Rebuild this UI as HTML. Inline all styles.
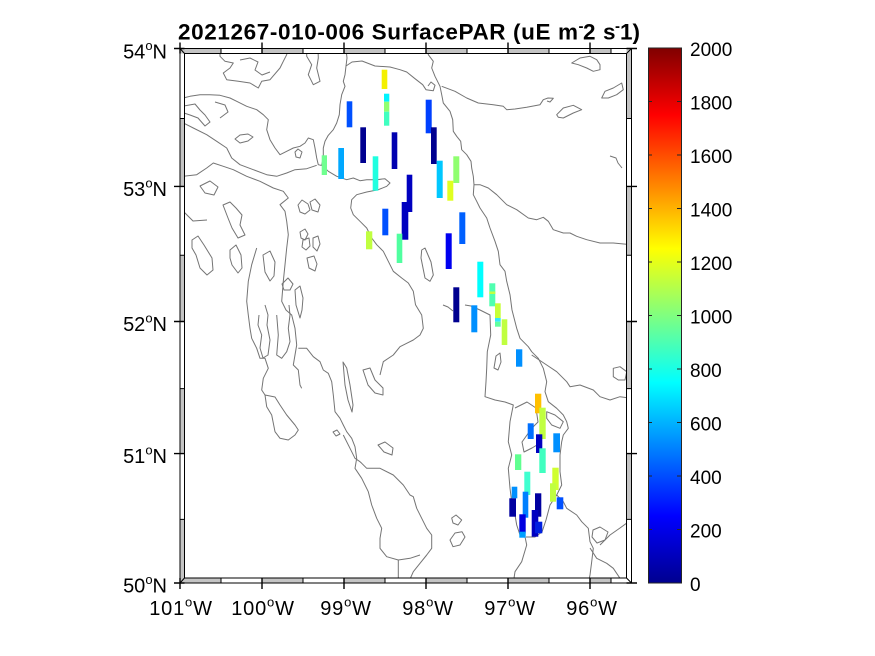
<!DOCTYPE html>
<html><head><meta charset="utf-8"><style>
html,body{margin:0;padding:0;background:#fff;}
svg{display:block;}
text{font-family:"Liberation Sans",Arial,sans-serif;fill:#000;}
</style></head><body>
<svg width="875" height="656" viewBox="0 0 875 656" xmlns="http://www.w3.org/2000/svg">
<defs>
<linearGradient id="jet" x1="0" y1="1" x2="0" y2="0">
<stop offset="0" stop-color="#00008f"/>
<stop offset="0.125" stop-color="#0000ff"/>
<stop offset="0.375" stop-color="#00ffff"/>
<stop offset="0.625" stop-color="#ffff00"/>
<stop offset="0.875" stop-color="#ff0000"/>
<stop offset="1" stop-color="#800000"/>
</linearGradient>
<clipPath id="mc"><rect x="184.5" y="53.5" width="442" height="524.5"/></clipPath>
</defs>
<rect width="875" height="656" fill="#fff"/>

<!-- coastlines -->
<g clip-path="url(#mc)" fill="none" stroke="#747474" stroke-width="1" stroke-linejoin="round">
<path d="M346,49 L347,58 L346,66 L345,74.7 L343.3,81.3 L345,86.3 L341.7,94.7 L340,104.7 L339.3,114.7 L336.7,123 L333.3,129.7 L328.3,135.3 L325,141.3 L323.3,148 L323.3,158 L321.7,164.7 L328.3,171.3 L336.7,176.3 L346.7,179.7 L353.3,178 L360,180.7 L366.7,179.7 L376.7,179.7 L385,178.7 L390,183 L386.7,186.3 L378.3,189.7 L366.7,192 L356.7,194.7 L351.7,199.7 L350.7,208 L353.3,214.7 L360,221.3 L366.7,228 L371.7,238 L376.7,244.7 L383.3,251.3 L388.3,261.3 L393.3,271.3 L401.7,278 L408.3,283 L413.3,291.3 L415.5,304.7 L421.7,315 L423.3,328.3 L420,335 L413.3,340 L406.7,343.3 L400,346.7 L393.3,355 L383.3,361.7 L380,375"/>
<path d="M346,66 L352,62 L362,61 L375,66 L390,67 L400,69.7 L406.7,72 L415,78.7 L422.7,84.7 L426,89.7 L433.3,90.7 L435,85.3 L431,82 L428,86"/>
<path d="M428,49 L428.3,54.7 L433.3,61.3 L431.7,68 L435,76.3 L440,86.3 L441.7,94.7 L443.3,103 L450,111.3 L452.7,119.7 L453.3,131.3 L456.7,136.3 L460.7,141.3 L461.7,149.7 L466.7,154.7 L471,161.3 L471.7,168 L473.3,176.3 L474,184.7 L473.3,194.7 L476.7,201.3 L480,208 L486.7,218 L490,228 L495,241.3 L498.3,251.3 L500,264.7 L505,271.3 L506.7,281.3 L510,294.7 L512,310 L516.7,328.3 L520,338.3 L528.3,346.7 L531.7,351.7 L538.3,358.3 L543.3,368.3 L546.7,381.7 L545,391.7 L548.3,401.7 L556.7,408.3 L563.3,415 L566.7,421.7 L568.3,428.3 L563.3,435 L561.7,441.7 L560,455 L560,471.7 L561.7,485 L556.7,495 L563.3,501.7 L566.7,508.3 L576.7,515 L581.7,521.7 L588.3,528.3 L590,541.7 L593.3,548.3 L591.7,561.7 L590,575 L588.3,583"/>
<path d="M474,184.7 L480,184.7 L488.3,188 L496.7,194.7 L506.7,204.7 L516.7,209.7 L528.3,218 L536.7,219.7 L543.3,217.3 L548.3,221.3 L553.3,229.7 L563.3,233 L570,233 L576.7,236.3 L586.7,239.7 L600,243 L613.3,243 L631,244.7"/>
<path d="M441.7,86.3 L455,91.3 L466.7,98 L478.3,103 L493.3,104.7 L503.3,106.3 L506.7,109.7 L515,109 L526.7,107.3 L540,104.7 L543.3,99.7 L548,98 L553.3,98.3 L550,102 L547,101"/>
<path d="M571.7,63 L580,58 L590,56.3 L596.7,59.7 L600,64.7 L600,69.7 L593.3,71.3 L586.7,68 L578.3,64.7 Z"/>
<path d="M601.7,98 L605,91.3 L613.3,88 L621.7,83 L623.3,89.7 L616.7,94.7 L608.3,98 Z"/>
<path d="M556.7,114.7 L563.3,108 L573.3,105.3 L581.7,109.7 L573.3,113 L563.3,118 L558.3,117.3 Z"/>
<path d="M610,156 L616,158 L618,163 L622,168"/>
<path d="M613.3,368.3 L620,366.7 L626.7,371.7 L625,380 L618.3,380 L613.3,376.7 Z"/>
<path d="M531.7,355 L546.7,365 L556.7,371.7 L566.7,381.7 L570,386.7 L580,385 L593.3,390 L600,396.7 L610,400 L620,396.7 L631,398.3"/>
<path d="M465,305 L471,306 L480,310 L490,315 L490.7,335 L487.3,351.7 L486.7,368.3 L486,381.7 L485,396.7 L495,400 L505,402 L513.3,405 L510,421.7 L508.3,441.7 L511.7,455 L508.3,468.3 L510,488.3 L511.7,501.7 L515,515 L516.7,525 L520,535 L525,536.7 L526.7,545 L521.7,561.7 L515,571.7 L513.3,583"/>
<path d="M443,305 L448,307 L453,311"/>
<path d="M526,537 L535,537 L542,532 L546,520 L550,505 L556.7,495"/>
<path d="M515,408 L527,402 L536,408 L538,422 L532,428 L527,435 L522,442 L524,452 L532,448 L537,445"/>
<path d="M546.7,411.7 L555,415 L563.3,421.7 L560,428.3 L551.7,425 L546.7,418.3 Z"/>
<path d="M494,368 L496,356 L500,353 L501,362 L498,370 Z"/>
<path d="M421.7,250 L425,248 L428,255 L431,262 L433.3,275 L430,281.3 L425,278 L423,268 L421,258 Z"/>
<path d="M451.7,518 L456,515 L461.7,520 L458,525 L453,523 Z"/>
<path d="M450,540 L455,533 L462,531.7 L465,537 L460,545 L453,546.7 Z"/>
<path d="M593,530 L600,527 L608,532 L605,540 L597,543 L592,537 Z"/>
<path d="M590,548 L596.7,558.3 L606.7,563.3 L613.3,568.3 L620,578.3 L631,581.7"/>
<path d="M600,545 L610,535 L620,528 L631,520"/>
<path d="M183.3,98 L190,96.3 L200,94.7 L210,94.7 L220,95.3 L230,98 L236.7,101.3 L246.7,106.3 L256.7,109.7 L263.3,114.7 L268.3,119.7 L266.7,129.7 L270,139.7 L275,148 L280,154.7 L286.7,151.3 L293.3,148 L300,146.3 L305,143 L308.3,138 L313.3,139.7 L315,148 L316.7,158 L318.3,164.7 L321.7,165.5"/>
<path d="M183.3,123 L193.3,128 L206.7,134.7 L216.7,141.3 L226.7,148 L231.7,158 L240,164.7 L253.3,169.7 L266.7,174.7 L276.7,176.3 L286.7,173 L295,169.7 L306.7,168.7 L316.7,165.3"/>
<path d="M183.3,176.3 L196.7,174.7 L206.7,168 L213.3,163 L223.3,166.3 L233.3,169.7 L246.7,176.3 L260,181.3 L273.3,188 L283.3,191.3 L288.3,198 L280,204.7 L285,211.3 L286.7,221.3 L288.3,234.7 L286.7,248 L285,264.7 L283.3,281.3 L281.7,301.3 L286,310 L291.7,315 L295,328.3 L296.7,345 L293.3,365 L298.3,370 L300,385 L301.7,388.3"/>
<path d="M276.7,315 L278.3,335 L276.7,355 L281.7,358.3 L286.7,351.7 L290,341.7 L288.3,328.3 L290,315 L289,305"/>
<path d="M256.7,248 L251.7,264.7 L248.3,281.3 L246.7,301.3 L248.3,315 L250,328.3 L251.7,338.3 L256.7,348.3 L260,358.3 L265,358.3 L268.3,368.3 L263.3,378.3 L261.7,390 L265,395"/>
<path d="M265,395 L266.7,406.7 L271.7,415 L275,431.7 L280,438.3 L288.3,440 L295,435 L298.3,430 L295,425 L286.7,415 L280,405 L275,397 Z"/>
<path d="M259,315 L258,325 L261.7,335 L260,348 L263,358 L268,355 L270,340 L267,325 L268,315 L265,305"/>
<path d="M298.3,348.3 L306.7,348.3 L313.3,356.7 L320,361.7 L323.3,370 L328.3,373.3 L331.7,381.7 L333.3,395 L335,411.7 L340,418.3 L343.3,425 L346.7,431.7 L351.7,438.3 L355,446.7 L356.7,458.3 L355,468.3 L361.7,478.3 L368.3,491.7 L371.7,505 L376.7,518.3 L381.7,528.3 L380,538.3 L380,548.3 L386.7,556.7 L398.3,560 L410,558.3 L420,555"/>
<path d="M398.3,560 L398.3,583"/>
<path d="M343,362 L346.7,368 L350,385 L353,405 L352,412 L348,400 L345,385 Z"/>
<path d="M363,370 L370,368 L375,380 L383,388 L383,395 L375,393 L368,385 Z"/>
<path d="M343.3,435 L350,448.3 L355,458.3 L360,461.7 L361.7,463.3 L366.7,468.3 L380,468.3 L393.3,475 L403.3,485 L410,495 L413.3,496.7 L416.7,508.3 L421.7,518.3 L426.7,528.3 L431.7,535 L431.7,548.3 L426.7,555 L420,563.3 L413.3,571.7 L408.3,583"/>
<path d="M378,445 L385,442 L393,448 L392,455 L384,452 Z"/>
<path d="M333,432 L337,430 L340,434 L336,436 Z"/>
<path d="M220,49 L220,56.3 L225,61.3 L233.3,63 L230,68 L223.3,73 L226.7,79.7 L238.3,81.3 L250,83 L258.3,88 L261.7,81.3 L270,79.7 L280,68 L283.3,61.3 L286.7,54.7 L287,49"/>
<path d="M306.7,49 L306.7,56.3 L311.7,64.7 L308.3,74.7 L313.3,84.7 L320,81.3 L316.7,68 L318.3,58 L318,49"/>
<path d="M240,60 L250,58 L258,62 L255,70 L262,75 L270,72"/>
<path d="M184,106 L195,104 L200,110 L205,115 L210,122 L205,126 L198,118 L190,115 L184,113"/>
<path d="M215,102 L225,105 L228,112 L220,118"/>
<path d="M235,139 L240,135 L248,134 L253,137 L248,141 L240,143 Z"/>
<path d="M295,152 L298,149 L302,152 L300,158 L296,157 Z"/>
<path d="M298,205 L302,200 L308,204 L310,210 L305,214 L300,212 Z"/>
<path d="M310,202 L315,199 L320,205 L318,212 L312,210 Z"/>
<path d="M183,211 L193,221 L207,220"/>
<path d="M200,186 L210,181 L218,187 L214,195 L205,193 Z"/>
<path d="M223,205 L230,202 L236,208 L242,215 L240,225 L245,235 L238,238 L232,228 L228,218 Z"/>
<path d="M192,240 L198,236 L204,245 L212,258 L213,270 L207,275 L200,268 L196,255 L192,248 Z"/>
<path d="M230,250 L236,245 L241,255 L242,268 L238,273 L232,265 L230,258 Z"/>
<path d="M263,255 L270,251 L275,262 L274,276 L270,281 L265,272 Z"/>
<path d="M300,232 L305,229 L308,234 L305,240 L301,238 Z"/>
<path d="M303,240 L309,238 L310,246 L306,250 L302,247 Z"/>
<path d="M313,238 L318,236 L320,244 L317,251 L313,247 Z"/>
<path d="M307,258 L314,256 L317,264 L315,271 L309,268 Z"/>
<path d="M282,284 L288,278 L293,284 L290,290 L284,290 Z"/>
<path d="M295,290 L300,286 L303,298 L302,310 L300,318 L296,305 Z"/>
</g>

<!-- data bars -->
<g clip-path="url(#mc)">
<rect x="381.7" y="69.7" width="5.6" height="19.3" fill="#f4f000"/>
<rect x="384" y="93.7" width="5.3" height="8" fill="#00f4ff"/>
<rect x="384" y="101.7" width="5.3" height="10" fill="#90ff70"/>
<rect x="384" y="111.7" width="5.3" height="14" fill="#40ffc0"/>
<rect x="346.7" y="101.3" width="5.6" height="26" fill="#0050ff"/>
<rect x="360.3" y="127.3" width="5.7" height="35.7" fill="#000090"/>
<rect x="391.7" y="132.3" width="5.6" height="36.7" fill="#0000b0"/>
<rect x="321.7" y="155.3" width="5.3" height="19.7" fill="#70ff90"/>
<rect x="338.3" y="148" width="5.7" height="31" fill="#00a8ff"/>
<rect x="372.7" y="156.3" width="5.6" height="34.4" fill="#20ffe0"/>
<rect x="406.7" y="174.7" width="5.6" height="37.3" fill="#0000c0"/>
<rect x="401.7" y="202" width="6.6" height="37.7" fill="#0000c0"/>
<rect x="382.3" y="208.7" width="6" height="26.6" fill="#0050ff"/>
<rect x="366" y="231.3" width="6.3" height="18" fill="#c0ff40"/>
<rect x="396.7" y="233.7" width="5.6" height="29.3" fill="#50ffa0"/>
<rect x="425.7" y="99.7" width="6" height="33.6" fill="#0040ff"/>
<rect x="431" y="127.3" width="5.7" height="36.7" fill="#000090"/>
<rect x="436.7" y="160.7" width="6" height="37.3" fill="#00c8ff"/>
<rect x="453.3" y="156.3" width="6" height="26.7" fill="#90ff70"/>
<rect x="447.3" y="180.7" width="6" height="20" fill="#e0ff20"/>
<rect x="459.3" y="212.3" width="6" height="31.7" fill="#0060ff"/>
<rect x="445.7" y="233.3" width="6" height="35.7" fill="#0000f0"/>
<rect x="477.3" y="261.7" width="6" height="35.6" fill="#00ffff"/>
<rect x="489.3" y="283.3" width="6" height="23" fill="#50ffb0"/>
<rect x="489.3" y="291.5" width="6" height="2.5" fill="#c0ff40"/>
<rect x="495" y="303.3" width="5.7" height="14.7" fill="#c8ff38"/>
<rect x="495" y="318" width="5.7" height="3.7" fill="#30e8ff"/>
<rect x="495" y="321.7" width="5.7" height="5" fill="#60ffa0"/>
<rect x="453.3" y="287.3" width="6" height="35" fill="#000090"/>
<rect x="471.3" y="305.3" width="6" height="27" fill="#0090ff"/>
<rect x="501.7" y="319.3" width="5.6" height="25.7" fill="#c0ff40"/>
<rect x="516" y="349.3" width="6.3" height="17.4" fill="#0090ff"/>
<rect x="535" y="393.7" width="6.3" height="19.6" fill="#ffc000"/>
<rect x="539.3" y="407.7" width="6.4" height="31.3" fill="#c0ff40"/>
<rect x="527.7" y="423.3" width="6" height="15.7" fill="#0070ff"/>
<rect x="536" y="434.3" width="6.3" height="18.7" fill="#0000c0"/>
<rect x="539.3" y="448.3" width="6.4" height="24.7" fill="#40ffc0"/>
<rect x="553.3" y="433.3" width="6.7" height="19" fill="#0090ff"/>
<rect x="515" y="454.3" width="6.3" height="15.7" fill="#60ff90"/>
<rect x="524.3" y="471.7" width="6" height="23.3" fill="#40ffd0"/>
<rect x="552.3" y="467.7" width="6.4" height="22.3" fill="#d0ff30"/>
<rect x="550" y="483.3" width="6" height="18.4" fill="#c0ff40"/>
<rect x="556.7" y="497.3" width="6.6" height="12" fill="#0050ff"/>
<rect x="511.7" y="486.7" width="5.6" height="11.6" fill="#0090ff"/>
<rect x="509.3" y="498.3" width="6.7" height="18.4" fill="#0000a0"/>
<rect x="522.7" y="491.7" width="5.6" height="26" fill="#0080ff"/>
<rect x="535" y="493.3" width="6.3" height="23.4" fill="#0000a0"/>
<rect x="519.3" y="514.3" width="6.4" height="19" fill="#0000e0"/>
<rect x="519.3" y="531.7" width="6.4" height="6" fill="#00a0ff"/>
<rect x="531.7" y="510" width="6.6" height="26.7" fill="#0000c0"/>
<rect x="535" y="521.7" width="7.3" height="11.6" fill="#0020e0"/>
</g>

<!-- fancy frame band segments -->
<g fill="#c4c4c4" stroke="none">
<rect x="180" y="48.5" width="41" height="5"/><rect x="262" y="48.5" width="41" height="5"/><rect x="344" y="48.5" width="41" height="5"/><rect x="426" y="48.5" width="41" height="5"/><rect x="508" y="48.5" width="41" height="5"/><rect x="590" y="48.5" width="21" height="5"/>
<rect x="180" y="578" width="41" height="5"/><rect x="262" y="578" width="41" height="5"/><rect x="344" y="578" width="41" height="5"/><rect x="426" y="578" width="41" height="5"/><rect x="508" y="578" width="41" height="5"/><rect x="590" y="578" width="21" height="5"/>
<rect x="180" y="118.5" width="4.5" height="67.9"/><rect x="180" y="255.2" width="4.5" height="66.3"/><rect x="180" y="388.6" width="4.5" height="65"/><rect x="180" y="519.4" width="4.5" height="63.6"/>
<rect x="626.5" y="48.5" width="5" height="70"/><rect x="626.5" y="186.4" width="5" height="68.8"/><rect x="626.5" y="321.5" width="5" height="67.1"/><rect x="626.5" y="453.6" width="5" height="65.8"/>
</g>
<g fill="none" stroke="#000" stroke-width="1">
<rect x="180" y="48.5" width="451.5" height="534.5"/>
<rect x="184.5" y="53.5" width="442" height="524.5"/>
<path d="M180,48.5 L184.5,53.5 M631.5,48.5 L626.5,53.5 M180,583 L184.5,578 M631.5,583 L626.5,578"/>
<path d="M221,48.5V53.5M303,48.5V53.5M385,48.5V53.5M467,48.5V53.5M549,48.5V53.5M611,48.5V53.5"/>
<path d="M221,578V583M303,578V583M385,578V583M467,578V583M549,578V583M611,578V583"/>
<path d="M180,118.5H184.5M180,255.2H184.5M180,388.6H184.5M180,519.4H184.5"/>
<path d="M626.5,118.5H631.5M626.5,255.2H631.5M626.5,388.6H631.5M626.5,519.4H631.5"/>
</g>
<g stroke="#000" stroke-width="1.4" fill="none">
<path d="M180,42.5V53.5M262,42.5V53.5M344,42.5V53.5M426,42.5V53.5M508,42.5V53.5M590,42.5V53.5"/>
<path d="M180,578V589M262,578V589M344,578V589M426,578V589M508,578V589M590,578V589"/>
<path d="M174,48.5H184.5M174,186.4H184.5M174,321.5H184.5M174,453.6H184.5M174,583H184.5"/>
<path d="M626.5,48.5H637M626.5,186.4H637M626.5,321.5H637M626.5,453.6H637M626.5,583H637"/>
</g>

<!-- title -->
<text y="39.5" font-size="22.5" font-weight="bold"><tspan x="178" textLength="400" lengthAdjust="spacing">2021267-010-006 SurfacePAR (uE m</tspan></text>
<text x="578.5" y="31" font-size="15" font-weight="bold">-</text>
<text x="583" y="39.5" font-size="22.5" font-weight="bold">2</text>
<text x="603" y="39.5" font-size="22.5" font-weight="bold">s</text>
<text x="615" y="31" font-size="15" font-weight="bold">-</text>
<text x="620" y="39.5" font-size="22.5" font-weight="bold">1)</text>

<!-- latitude labels -->
<g font-size="20" text-anchor="end">
<text x="167" y="58.5">54<tspan font-size="13" dy="-8.5">o</tspan><tspan dy="8.5">N</tspan></text>
<text x="167" y="196">53<tspan font-size="13" dy="-8.5">o</tspan><tspan dy="8.5">N</tspan></text>
<text x="167" y="331">52<tspan font-size="13" dy="-8.5">o</tspan><tspan dy="8.5">N</tspan></text>
<text x="167" y="463">51<tspan font-size="13" dy="-8.5">o</tspan><tspan dy="8.5">N</tspan></text>
<text x="167" y="592.5">50<tspan font-size="13" dy="-8.5">o</tspan><tspan dy="8.5">N</tspan></text>
</g>
<!-- longitude labels -->
<g font-size="20" text-anchor="middle" letter-spacing="0.8">
<text x="181" y="615">101<tspan font-size="13" dy="-8.5">o</tspan><tspan dy="8.5">W</tspan></text>
<text x="263" y="615">100<tspan font-size="13" dy="-8.5">o</tspan><tspan dy="8.5">W</tspan></text>
<text x="346" y="615">99<tspan font-size="13" dy="-8.5">o</tspan><tspan dy="8.5">W</tspan></text>
<text x="428" y="615">98<tspan font-size="13" dy="-8.5">o</tspan><tspan dy="8.5">W</tspan></text>
<text x="510" y="615">97<tspan font-size="13" dy="-8.5">o</tspan><tspan dy="8.5">W</tspan></text>
<text x="592" y="615">96<tspan font-size="13" dy="-8.5">o</tspan><tspan dy="8.5">W</tspan></text>
</g>

<!-- colorbar -->
<rect x="648.5" y="48" width="33" height="535" fill="url(#jet)" stroke="#262626" stroke-width="1"/>
<g stroke="#262626" stroke-width="1">
<path d="M677,101.5H681.5M677,155H681.5M677,208.5H681.5M677,262H681.5M677,315.5H681.5M677,369H681.5M677,422.5H681.5M677,476H681.5M677,529.5H681.5"/>
<path d="M648.5,101.5H652M648.5,155H652M648.5,208.5H652M648.5,262H652M648.5,315.5H652M648.5,369H652M648.5,422.5H652M648.5,476H652M648.5,529.5H652"/>
</g>
<g font-size="19" fill="#262626">
<text x="690" y="56">2000</text>
<text x="690" y="109.5">1800</text>
<text x="690" y="163">1600</text>
<text x="690" y="216.5">1400</text>
<text x="690" y="270">1200</text>
<text x="690" y="323.5">1000</text>
<text x="690" y="377">800</text>
<text x="690" y="430.5">600</text>
<text x="690" y="484">400</text>
<text x="690" y="537.5">200</text>
<text x="690" y="591">0</text>
</g>
</svg>
</body></html>
